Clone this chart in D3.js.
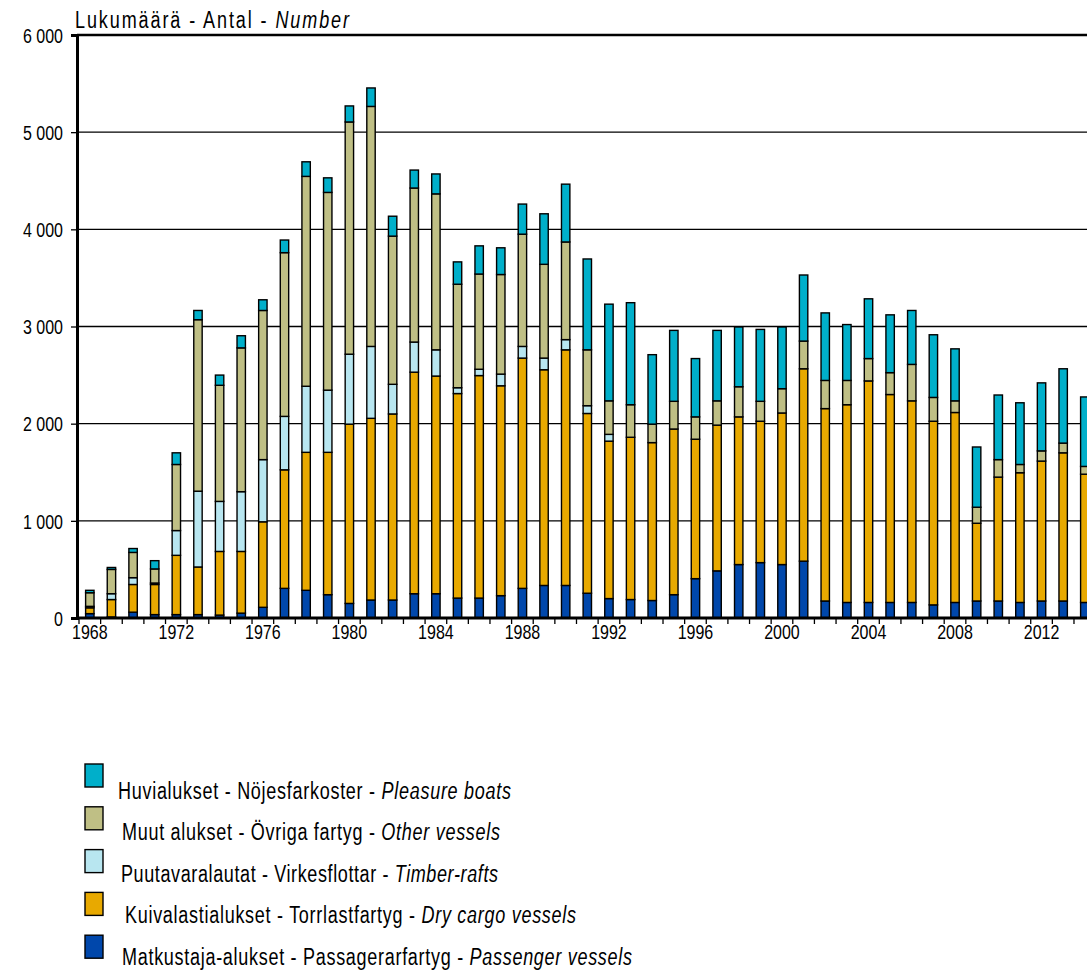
<!DOCTYPE html>
<html><head><meta charset="utf-8">
<script src="https://cdn.jsdelivr.net/npm/d3@7/dist/d3.min.js"></script>
<style>
html,body{margin:0;padding:0;background:#fff;}
svg{display:block;font-family:"Liberation Sans",Arial,sans-serif;}
</style></head>
<body><svg id="c" width="1087" height="971"></svg>
<script>
const years = d3.range(1968, 2015);
const passenger = [45,10,60,35,35,35,30,50,110,305,285,240,150,185,185,250,250,205,205,230,305,335,335,255,200,190,180,240,405,485,550,570,550,585,175,160,160,160,160,135,160,175,175,160,175,175,160];
const dryCargo  = [60,180,285,310,610,490,655,635,880,1220,1420,1465,1845,1870,1915,2280,2240,2105,2290,2160,2370,2220,2425,1850,1620,1670,1625,1705,1435,1500,1520,1455,1560,1980,1980,2035,2280,2140,2075,1890,1955,800,1275,1335,1440,1525,1320];
const timber    = [15,60,70,15,255,780,515,615,640,550,680,640,720,740,305,310,270,60,65,120,120,120,105,80,70,0,0,0,0,0,0,0,0,0,0,0,0,0,0,0,0,0,0,0,0,0,0];
const other     = [140,250,260,145,680,1765,1195,1480,1535,1685,2160,2035,2390,2470,1525,1585,1605,1065,980,1025,1155,965,1005,575,345,335,190,285,230,250,310,205,250,285,290,250,230,225,375,245,120,165,180,85,105,100,80];
const pleasure  = [25,20,40,85,120,95,105,125,110,130,150,150,165,190,205,185,205,230,290,275,310,520,595,935,995,1050,715,730,600,725,615,740,635,680,695,575,615,595,555,645,535,620,665,635,700,765,715];

const seriesKeys = ["passenger","dryCargo","timber","other","pleasure"];
const seriesColors = ["#0047AB","#E8A900","#B8E6F0","#BFBF85","#00AFCA"];
const legendNormal = ["Huvialukset - Nöjesfarkoster - ","Muut alukset - Övriga fartyg - ","Puutavaralautat - Virkesflottar - ","Kuivalastialukset - Torrlastfartyg - ","Matkustaja-alukset - Passagerarfartyg - "];
const legendItalic = ["Pleasure boats","Other vessels","Timber-rafts","Dry cargo vessels","Passenger vessels"];
const legendColors = ["#00AFCA","#BFBF85","#B8E6F0","#E8A900","#0047AB"];
const yTicks = [0,1000,2000,3000,4000,5000,6000];
const xLabelYears = d3.range(1968, 2015, 4);
const titleNormal = "Lukumäärä - Antal - ";
const titleItalic = "Number";

const svg = d3.select("#c");
const axisX0 = 77, plotTop = 35, plotBottom = 618, step = 21.63;
const SY = 1.28; // vertical stretch of the original lettering
const x = d3.scaleBand().domain(years).range([79, 79 + years.length*step]).paddingInner(0).paddingOuter(0);
const y = d3.scaleLinear().domain([0,6000]).range([plotBottom, plotTop]);
const fmt = d3.formatLocale({decimal:",",thousands:" ",grouping:[3],currency:["",""]}).format(",");

// gridlines
svg.append("g").selectAll("line").data(yTicks.filter(d=>d>0)).join("line")
  .attr("x1", axisX0).attr("x2", 1087)
  .attr("y1", d=>y(d)).attr("y2", d=>y(d))
  .attr("stroke", "#000").attr("stroke-width", d=>d===6000?2.5:1.3);

// stacked data
const table = years.map((yr,i)=>({year:yr, passenger:passenger[i], dryCargo:dryCargo[i], timber:timber[i], other:other[i], pleasure:pleasure[i]}));
const stack = d3.stack().keys(seriesKeys)(table);
const bw = 8.4;
const g = svg.append("g");
stack.forEach((layer, li) => {
  g.append("g").selectAll("rect").data(layer.filter(d=>d[1]-d[0]>0)).join("rect")
    .attr("x", d => x(d.data.year) + x.bandwidth()/2 - bw/2)
    .attr("width", bw)
    .attr("y", d => y(d[1]))
    .attr("height", d => y(d[0]) - y(d[1]))
    .attr("fill", seriesColors[li])
    .attr("stroke", "#000").attr("stroke-width", 1.4);
});

// y axis
const yAxis = d3.axisLeft(y).tickValues(yTicks).tickSize(6).tickFormat(d=>fmt(d)).tickPadding(8);
const ya = svg.append("g").attr("transform", `translate(${axisX0},0)`).call(yAxis);
ya.select(".domain").attr("stroke","#000").attr("stroke-width",3);
ya.selectAll(".tick line").attr("stroke","#000").attr("stroke-width",1.3);
ya.selectAll(".tick text").attr("font-size",16).attr("fill","#000").attr("font-family","Liberation Sans, Arial, sans-serif")
  .attr("dy",null).attr("dominant-baseline","central")
  .attr("transform", function(){ const xx = +d3.select(this).attr("x"); d3.select(this).attr("x",0); return `translate(${xx},0) scale(1,${SY})`; });

// x axis
const xa = svg.append("g").attr("transform", `translate(0,${plotBottom})`);
xa.append("line").attr("x1", axisX0-1).attr("x2", 1087).attr("y1",0).attr("y2",0).attr("stroke","#000").attr("stroke-width",3);
xa.selectAll("line.tk").data(years).join("line").attr("class","tk")
  .attr("x1", d=>x(d)).attr("x2", d=>x(d)).attr("y1",0).attr("y2",6)
  .attr("stroke","#000").attr("stroke-width",1.3);
xa.selectAll("text").data(xLabelYears).join("text")
  .attr("transform", d=>`translate(${x(d)+x.bandwidth()/2},14) scale(1,${SY})`)
  .attr("dominant-baseline","central")
  .attr("text-anchor","middle").attr("font-size",16).attr("fill","#000")
  .text(d=>d);

// title
const t = svg.append("text").attr("transform",`translate(75,19) scale(1,${SY})`)
  .attr("dominant-baseline","central")
  .attr("font-size",18).attr("fill","#000").attr("textLength",274).attr("lengthAdjust","spacing");
t.append("tspan").text(titleNormal);
t.append("tspan").attr("font-style","italic").text(titleItalic);

// legend
const legendTextX = [118,122,121,125,122];
const legendTextLen = [393,378,377,451,510];
const lg = svg.append("g");
legendNormal.forEach((s,i)=>{
  const yy = 764 + i*42.8;
  lg.append("rect").attr("x",85).attr("y",yy).attr("width",18).attr("height",23)
    .attr("fill",legendColors[i]).attr("stroke","#000").attr("stroke-width",1.4);
  const tx = lg.append("text").attr("transform",`translate(${legendTextX[i]},${790 + i*41.5}) scale(1,${SY})`)
    .attr("dominant-baseline","central")
    .attr("font-size",18).attr("fill","#000")
    .attr("textLength",legendTextLen[i]).attr("lengthAdjust","spacing");
  tx.append("tspan").text(s);
  tx.append("tspan").attr("font-style","italic").text(legendItalic[i]);
});
</script></body></html>
